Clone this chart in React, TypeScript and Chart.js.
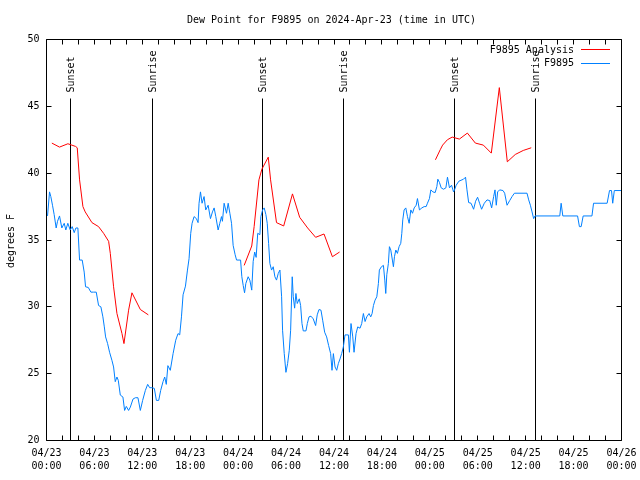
import React, { useEffect, useRef } from 'react';
import { Chart, registerables } from 'chart.js';

Chart.register(...registerables);

const chartTitle = 'Dew Point for F9895 on 2024-Apr-23 (time in UTC)';
const yAxisTitle = 'degrees F';

// hours since 04/23 00:00 UTC
const xTickLabels: string[][] = [
  ['04/23', '00:00'], ['04/23', '06:00'], ['04/23', '12:00'], ['04/23', '18:00'],
  ['04/24', '00:00'], ['04/24', '06:00'], ['04/24', '12:00'], ['04/24', '18:00'],
  ['04/25', '00:00'], ['04/25', '06:00'], ['04/25', '12:00'], ['04/25', '18:00'],
  ['04/26', '00:00'],
];

const sunsetHours = [3.0, 27.0, 51.09];
const sunriseHours = [13.27, 37.19, 61.23];
const sunLineTop = 45.6;

const analysisLabel = 'F9895 Analysis';
const analysisTimes = [
  0.67, 1.63, 2.68, 3.64, 3.85, 4.14, 4.56, 4.85, 5.69, 6.52, 7.15, 7.78, 7.99, 8.4, 8.82, 9.45, 9.7, 10.28, 10.7, 11.75, 12.75,
  18,
  24.75, 25.7, 26.0, 26.6, 26.97, 27.77, 28.06, 28.8, 29.7, 30.8, 31.7, 32.7, 33.7, 34.75, 35.8, 36.7,
  42,
  48.7, 49.3, 49.6, 50.2, 50.8, 51.7, 52.7, 53.7, 54.7, 55.7, 56.7, 57.7, 58.7, 59.7, 60.7,
];
const analysisValues: (number | null)[] = [
  42.25, 41.95, 42.2, 42.0, 41.9, 39.5, 37.5, 37.1, 36.3, 36.0, 35.5, 34.9, 34.0, 31.5, 29.5, 28.0, 27.25, 29.75, 31.05, 29.8, 29.4,
  null,
  33.1, 34.55, 36.0, 39.5, 40.3, 41.2, 39.5, 36.3, 36.05, 38.45, 36.7, 35.9, 35.2, 35.45, 33.75, 34.1,
  null,
  41.0, 41.75, 42.1, 42.5, 42.7, 42.55, 43.0, 42.25, 42.1, 41.5, 46.4, 40.85, 41.4, 41.7, 41.9,
];

const stationLabel = 'F9895';
const stationTimes = [
  0.13, 0.38, 0.54, 0.75, 0.96, 1.21, 1.38, 1.63, 1.92, 2.22, 2.42, 2.67, 2.97, 3.22, 3.47, 3.68, 3.93, 4.14, 4.47, 4.72,
  4.89, 5.23, 5.56, 5.9, 6.23, 6.52, 6.81, 7.06, 7.24, 7.4, 7.65, 7.9, 8.19, 8.4, 8.61, 8.82, 8.99, 9.24, 9.57, 9.78,
  9.99, 10.28, 10.5, 10.83, 11.13, 11.45, 11.75, 12.04, 12.38, 12.67, 12.92, 13.2, 13.5, 13.76, 14.05, 14.3, 14.59, 14.8, 15.0, 15.2,
  15.5, 15.85, 16.18, 16.47, 16.68, 16.9, 17.1, 17.4, 17.65, 17.85, 18.06, 18.23, 18.48, 18.77, 18.98, 19.1, 19.28, 19.48, 19.73, 19.94,
  20.24, 20.53, 20.78, 20.99, 21.2, 21.49, 21.7, 21.91, 22.03, 22.24, 22.54, 22.75, 22.96, 23.17, 23.37, 23.62, 23.8, 24.3, 24.46, 24.63,
  24.8, 24.96, 25.25, 25.46, 25.7, 25.88, 26.07, 26.25, 26.45, 26.72, 26.84, 27.06, 27.26, 27.47, 27.64, 27.81, 27.97, 28.18, 28.39, 28.6,
  28.8, 29.02, 29.23, 29.44, 29.56, 29.77, 29.98, 30.19, 30.4, 30.57, 30.77, 30.9, 31.07, 31.23, 31.4, 31.65, 31.82, 31.99, 32.15, 32.49,
  32.66, 32.87, 33.12, 33.4, 33.7, 33.9, 34.12, 34.37, 34.58, 34.83, 35.08, 35.33, 35.58, 35.75, 35.92, 36.13, 36.34, 36.54, 36.75, 36.96,
  37.17, 37.38, 37.8, 37.93, 38.13, 38.35, 38.51, 38.76, 38.97, 39.26, 39.47, 39.68, 39.89, 40.1, 40.39, 40.6, 40.77, 40.94, 41.14, 41.36,
  41.56, 41.68, 41.94, 42.19, 42.36, 42.48, 42.61, 42.81, 42.94, 43.11, 43.31, 43.44, 43.57, 43.74, 43.94, 44.15, 44.36, 44.49, 44.61, 44.78,
  44.99, 45.2, 45.41, 45.62, 45.83, 46.04, 46.29, 46.45, 46.7, 47.0, 47.29, 47.54, 47.7, 47.95, 48.13, 48.38, 48.67, 48.88, 49.0, 49.21,
  49.42, 49.71, 50.01, 50.21, 50.46, 50.72, 50.97, 51.09, 51.3, 51.64, 52.22, 52.47, 52.65, 52.86, 53.16, 53.48, 53.73, 53.98, 54.23, 54.48,
  54.82, 55.16, 55.5, 55.74, 55.99, 56.16, 56.32, 56.49, 56.74, 57.16, 57.37, 57.67, 58.0, 58.3, 58.59, 60.17, 60.38, 60.59, 60.8, 61.0,
  61.17, 64.27, 64.44, 64.65, 66.5, 66.73, 66.95, 67.2, 68.3, 68.5, 70.2, 70.5, 70.75, 70.9, 71.1, 72.0,
];
const stationValues = [
  36.8, 38.6, 38.25, 37.6, 36.9, 35.9, 36.4, 36.8, 35.9, 36.25, 35.75, 36.25, 35.75, 36.0, 35.55, 35.9, 35.9, 33.5, 33.5, 32.6,
  31.5, 31.45, 31.1, 31.1, 31.1, 30.1, 30.0, 29.25, 28.5, 27.75, 27.25, 26.6, 26.0, 25.5, 24.4, 24.75, 24.5, 23.4, 23.25, 22.25,
  22.55, 22.25, 22.5, 23.1, 23.2, 23.2, 22.25, 23.0, 23.75, 24.2, 23.95, 23.95, 23.9, 23.0, 23.0, 23.75, 24.4, 24.75, 24.2, 25.6,
  25.25, 26.5, 27.5, 28.0, 27.9, 29.25, 30.9, 31.55, 32.75, 33.6, 35.5, 36.25, 36.75, 36.6, 36.3, 37.75, 38.6, 37.75, 38.25, 37.25,
  37.6, 36.6, 37.1, 37.4, 36.75, 35.75, 36.25, 36.75, 36.4, 37.75, 37.0, 37.75, 37.0, 36.25, 34.6, 33.9, 33.5, 33.5, 32.25, 31.6,
  31.05, 31.75, 32.25, 32.0, 31.25, 33.4, 34.1, 33.7, 35.5, 35.4, 36.75, 37.25, 37.4, 36.9, 36.25, 34.75, 33.25, 32.75, 33.0, 32.25,
  32.0, 32.5, 32.75, 30.75, 28.25, 26.5, 25.1, 25.75, 26.75, 28.25, 32.25, 30.75, 29.9, 31.0, 30.25, 30.6, 30.1, 28.75, 28.2, 28.2,
  28.75, 29.25, 29.3, 29.1, 28.6, 29.4, 29.8, 29.75, 29.0, 28.1, 27.75, 27.1, 26.5, 25.25, 26.5, 25.5, 25.25, 25.75, 26.1, 26.5,
  27.0, 27.9, 27.9, 26.6, 28.75, 27.75, 26.6, 28.0, 28.5, 28.4, 28.75, 29.5, 28.9, 29.25, 29.5, 29.25, 29.5, 30.1, 30.5, 30.75,
  31.75, 32.75, 33.0, 33.1, 32.0, 31.0, 32.4, 33.25, 34.5, 34.25, 33.5, 33.0, 33.75, 34.25, 34.0, 34.5, 34.75, 35.5, 36.5, 37.25,
  37.4, 36.75, 36.25, 37.25, 37.0, 37.4, 37.6, 38.1, 37.25, 37.4, 37.5, 37.5, 37.75, 38.1, 38.75, 38.6, 38.55, 39.0, 39.55, 39.3,
  38.9, 38.8, 38.9, 39.7, 38.9, 39.1, 38.6, 38.75, 39.1, 39.4, 39.55, 39.7, 38.75, 37.8, 37.75, 37.3, 37.9, 38.2, 37.75, 37.3,
  37.75, 38.0, 37.95, 37.4, 38.25, 38.75, 37.6, 38.6, 38.75, 38.7, 38.5, 37.6, 37.95, 38.25, 38.5, 38.5, 38.0, 37.6, 37.1, 36.6,
  36.8, 36.8, 37.75, 36.8, 36.8, 36.0, 36.0, 36.8, 36.8, 37.75, 37.75, 38.7, 38.7, 37.75, 38.7, 38.7,
];

const FONT = "'DejaVu Sans Mono', 'Liberation Mono', monospace";

const snap = (v: number) => Math.round(v - 0.5) + 0.5;

const gnuplotDecor = {
  id: 'gnuplotDecor',
  beforeDatasetsDraw(chart: any) {
    const { ctx, chartArea, scales } = chart;
    const x = scales.x;
    const y = scales.y;
    ctx.save();
    ctx.strokeStyle = '#000000';
    ctx.lineWidth = 1;
    ctx.fillStyle = '#000000';
    ctx.font = `10px ${FONT}`;
    const yTop = snap(y.getPixelForValue(sunLineTop));
    const drawSun = (hours: number[], label: string) => {
      hours.forEach((h) => {
        const px = snap(x.getPixelForValue(h));
        ctx.beginPath();
        ctx.moveTo(px, chartArea.bottom);
        ctx.lineTo(px, yTop);
        ctx.stroke();
        ctx.save();
        ctx.translate(px + 1, yTop - 6);
        ctx.rotate(-Math.PI / 2);
        ctx.textAlign = 'left';
        ctx.textBaseline = 'middle';
        ctx.fillText(label, 0, 0);
        ctx.restore();
      });
    };
    drawSun(sunsetHours, 'Sunset');
    drawSun(sunriseHours, 'Sunrise');
    ctx.restore();
  },
  afterDatasetsDraw(chart: any) {
    const { ctx, chartArea, scales } = chart;
    const { left, right, top, bottom } = chartArea;
    const x = scales.x;
    const y = scales.y;
    ctx.save();
    ctx.strokeStyle = '#000000';
    ctx.lineWidth = 1;
    ctx.beginPath();
    ctx.rect(left, top, right - left, bottom - top);
    ctx.stroke();
    const tl = 5;
    ctx.beginPath();
    x.ticks.forEach((t: any) => {
      const px = snap(x.getPixelForValue(t.value));
      ctx.moveTo(px, bottom);
      ctx.lineTo(px, bottom - tl);
      ctx.moveTo(px, top);
      ctx.lineTo(px, top + tl);
    });
    y.ticks.forEach((t: any) => {
      const py = snap(y.getPixelForValue(t.value));
      ctx.moveTo(left, py);
      ctx.lineTo(left + tl, py);
      ctx.moveTo(right, py);
      ctx.lineTo(right - tl, py);
    });
    ctx.stroke();

    ctx.fillStyle = '#000000';
    ctx.font = `10px ${FONT}`;
    // title
    ctx.textAlign = 'center';
    ctx.textBaseline = 'middle';
    ctx.fillText(chartTitle, 331.5, 20.5);
    // y axis title
    ctx.save();
    ctx.translate(11, 241);
    ctx.rotate(-Math.PI / 2);
    ctx.fillText(yAxisTitle, 0, 0);
    ctx.restore();
    // legend
    const ds = chart.data.datasets;
    [0, 1].forEach((i) => {
      const ly = 49.5 + i * 13.5;
      ctx.textAlign = 'right';
      ctx.fillStyle = '#000000';
      ctx.fillText(ds[i].label, 574, ly + 0.5);
      ctx.strokeStyle = ds[i].borderColor;
      ctx.beginPath();
      ctx.moveTo(581, snap(ly));
      ctx.lineTo(610, snap(ly));
      ctx.stroke();
    });
    ctx.restore();
  },
};

export default function App() {
  const canvasRef = useRef<HTMLCanvasElement | null>(null);

  useEffect(() => {
    if (!canvasRef.current) return;
    const analysisData = analysisTimes.map((t, i) => ({ x: t, y: analysisValues[i] }));
    const stationData = stationTimes.map((t, i) => ({ x: t, y: stationValues[i] }));
    const chart = new Chart(canvasRef.current, {
      type: 'line',
      data: {
        datasets: [
          {
            label: analysisLabel,
            data: analysisData as any,
            borderColor: '#ff0000',
            borderWidth: 1,
            pointRadius: 0,
            tension: 0,
            spanGaps: false,
          },
          {
            label: stationLabel,
            data: stationData as any,
            borderColor: '#0080ff',
            borderWidth: 1,
            pointRadius: 0,
            tension: 0,
          },
        ],
      },
      options: {
        animation: false,
        responsive: false,
        devicePixelRatio: 1,
        layout: { padding: { top: 39.5, right: 18.5, left: 0, bottom: 0 } },
        plugins: {
          legend: { display: false },
          title: { display: false },
          tooltip: { enabled: false },
        },
        scales: {
          x: {
            type: 'linear',
            min: 0,
            max: 72,
            grid: { display: false, drawTicks: false },
            border: { display: false },
            afterFit: (scale: any) => {
              scale.height = 39.5;
              scale.paddingLeft = 0;
              scale.paddingRight = 0;
            },
            ticks: {
              stepSize: 2,
              autoSkip: false,
              maxRotation: 0,
              padding: 6,
              color: '#000000',
              font: { family: FONT, size: 10, lineHeight: 1.3 },
              callback: (value: any) => {
                const v = Number(value);
                return v % 6 === 0 ? xTickLabels[v / 6] : '';
              },
            },
          },
          y: {
            type: 'linear',
            min: 20,
            max: 50,
            grid: { display: false, drawTicks: false },
            border: { display: false },
            afterFit: (scale: any) => {
              scale.width = 46.5;
              scale.paddingTop = 0;
              scale.paddingBottom = 0;
            },
            ticks: {
              stepSize: 5,
              padding: 7,
              color: '#000000',
              font: { family: FONT, size: 10 },
            },
          },
        },
      },
      plugins: [gnuplotDecor],
    });
    return () => chart.destroy();
  }, []);

  return (
    <div style={{ position: 'absolute', left: 0, top: 0, width: 640, height: 480, background: '#ffffff' }}>
      <canvas ref={canvasRef} width={640} height={480} style={{ width: 640, height: 480 }} />
    </div>
  );
}
